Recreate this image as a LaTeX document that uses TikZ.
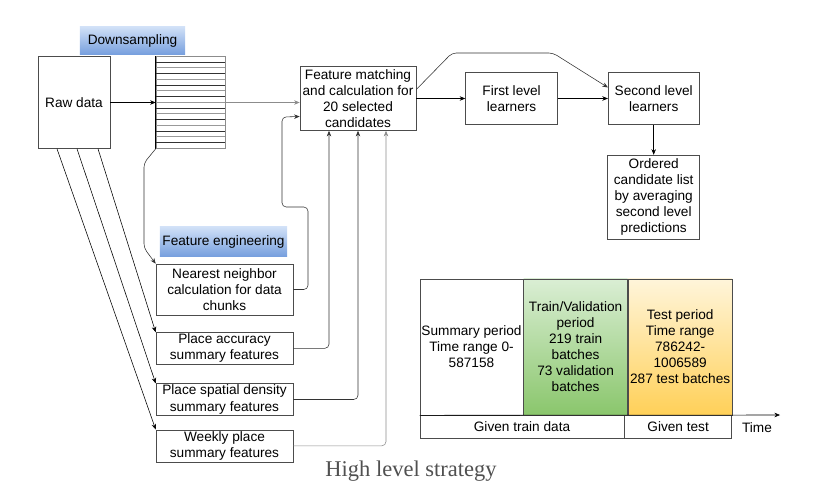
\documentclass[tikz,border=0pt]{standalone}
\usepackage{fontspec}
\setmainfont{Liberation Sans}
\newfontfamily\captionserif{Liberation Serif}
\usetikzlibrary{arrows.meta, positioning}
\definecolor{dsTop}{RGB}{208,224,247}
\definecolor{dsBot}{RGB}{120,160,222}
\definecolor{tvTop}{RGB}{218,238,212}
\definecolor{tvBot}{RGB}{138,198,108}
\definecolor{tpTop}{RGB}{255,245,218}
\definecolor{tpBot}{RGB}{255,208,88}
\definecolor{capGray}{RGB}{80,80,80}

\begin{document}
\begin{tikzpicture}
[x=0.025cm, y=0.025cm,
->/.style={arrows={-Stealth[length=4pt,width=3.2pt]}},
box/.style={shape=rectangle, draw=black!70, align=center, inner sep=1pt, font=\fontsize{9.7}{11.4}\selectfont},
tag/.style={shape=rectangle, align=center, inner sep=1pt, top color=dsTop, bottom color=dsBot, font=\fontsize{9.7}{11.4}\selectfont},
wire/.style={draw=black!80, rounded corners=3pt},
period/.style={box, minimum width=2.6cm, minimum height=3.4cm}]
\useasboundingbox (0,0) rectangle (816,-499);
\node[box, minimum width=1.8cm, minimum height=2.3cm] (RD) at (74,-102.5) {Raw data};
\node[box, draw=black!45, minimum width=1.725cm, minimum height=2.3cm] (STR) at (190.5,-102.5) {};
\foreach \i in {1,3,...,15}
  \draw[black!80] ([yshift=-\i*0.14375cm]STR.north west) -- ([yshift=-\i*0.14375cm]STR.north east);
\foreach \i in {2,4,...,14}
  \draw[black!40] ([yshift=-\i*0.14375cm]STR.north west) -- ([yshift=-\i*0.14375cm]STR.north east);
\draw[thick] (STR.north west) -- (STR.south west);
\node[tag, minimum width=2.625cm, minimum height=0.675cm] (DS) at (132.5,-40.5) {Downsampling};
\node[box, minimum width=2.9cm, minimum height=1.6cm] (FM) at (358,-98.5) {Feature matching\\and calculation for\\20 selected\\candidates};
\node[box, minimum width=2.3cm, minimum height=1.3cm] (FL) [right=1.225cm of FM] {First level\\learners};
\node[box, minimum width=2.275cm, minimum height=1.3cm] (SL) [right=1.25cm of FL] {Second level\\learners};
\node[box, minimum width=2.3cm, minimum height=2.1cm] (OCL) [below=0.75cm of SL] {Ordered\\candidate list\\by averaging\\second level\\predictions};
\node[tag, minimum width=3.175cm, minimum height=0.725cm] (FE) at (223.5,-241.5) {Feature engineering};
\node[box, minimum width=3.425cm, minimum height=1.275cm] (NN) at (224.5,-289.5) {Nearest neighbor\\calculation for data\\chunks};
\node[box, minimum width=3.425cm, minimum height=0.775cm] (PA) [below=0.425cm of NN] {Place accuracy\\summary features};
\node[box, minimum width=3.425cm, minimum height=0.75cm] (PSD) [below=0.475cm of PA] {Place spatial density\\summary features};
\node[box, minimum width=3.425cm, minimum height=0.8cm] (WP) [below=0.35cm of PSD] {Weekly place\\summary features};
\draw[->] (RD) -- (STR);
\draw[->, draw=black!45] (STR.east) -- (STR.east -| FM.west);
\draw[->] (FM) -- (FL);
\draw[->] (FL) -- (SL);
\draw[->] (SL) -- (OCL);
\coordinate (FMne) at ([yshift=0.225cm]FM.east);
\coordinate (up1) at (452,-53);
\coordinate (up2) at (553,-53);
\coordinate (SLw) at ([yshift=0.275cm]SL.west);
\draw[->, wire] (FMne) -- (up1) -- (up2) -- (SLw);
\coordinate (RDs1) at ([xshift=-0.425cm]RD.south);
\coordinate (RDs2) at ([xshift=0.075cm]RD.south);
\coordinate (RDs3) at ([xshift=0.6cm]RD.south);
\draw[->] (RDs1) -- (WP.north west);
\draw[->] (RDs2) -- (PSD.north west);
\draw[->] (RDs3) -- (PA.north west);
\coordinate (dn1) at (144,-163);
\coordinate (dn2) at (144,-248);
\draw[->, wire] (STR.south west) -- (dn1) -- (dn2) -- (NN.north west);
\coordinate (nn1) at (308,-207);
\coordinate (nn2) at (282,-117);
\coordinate (FMw2) at ([yshift=-0.45cm]FM.west);
\draw[->, wire] (NN.east) -| (nn1) -| (nn2) -- (FMw2);
\draw[->, wire] (PA.east) -| ([xshift=-0.725cm]FM.south);
\draw[->, wire] (PSD.east) -| (FM.south);
\draw[->, wire, draw=black!45] (WP.east) -| ([xshift=0.7cm]FM.south);
\node[period, minimum width=2.575cm, fill=white] (SP) at (471.5,-347) {Summary period\\Time range 0-\\587158};
\node[period, top color=tvTop, bottom color=tvBot] (TV) [right=0cm of SP] {Train/Validation\\period\\219 train\\batches\\73 validation\\batches};
\node[period, top color=tpTop, bottom color=tpBot] (TP) [right=0cm of TV] {Test period\\Time range\\786242-\\1006589\\287 test batches};
\node[box, minimum width=5.1cm, minimum height=0.575cm, anchor=north west] (GTD) at (SP.south west) {Given train data};
\node[box, minimum width=2.675cm, minimum height=0.575cm] (GT) [right=0cm of GTD] {Given test};
\node[box, draw=none] (TL) at (757,-428) {Time};
\coordinate (tEnd) at (780,-415);
\draw[->] (SP.south west) -- (tEnd);
\node[font=\captionserif\fontsize{16}{19}\selectfont, text=capGray] (CAP) at (411,-471) {High level strategy};
\end{tikzpicture}
\end{document}
